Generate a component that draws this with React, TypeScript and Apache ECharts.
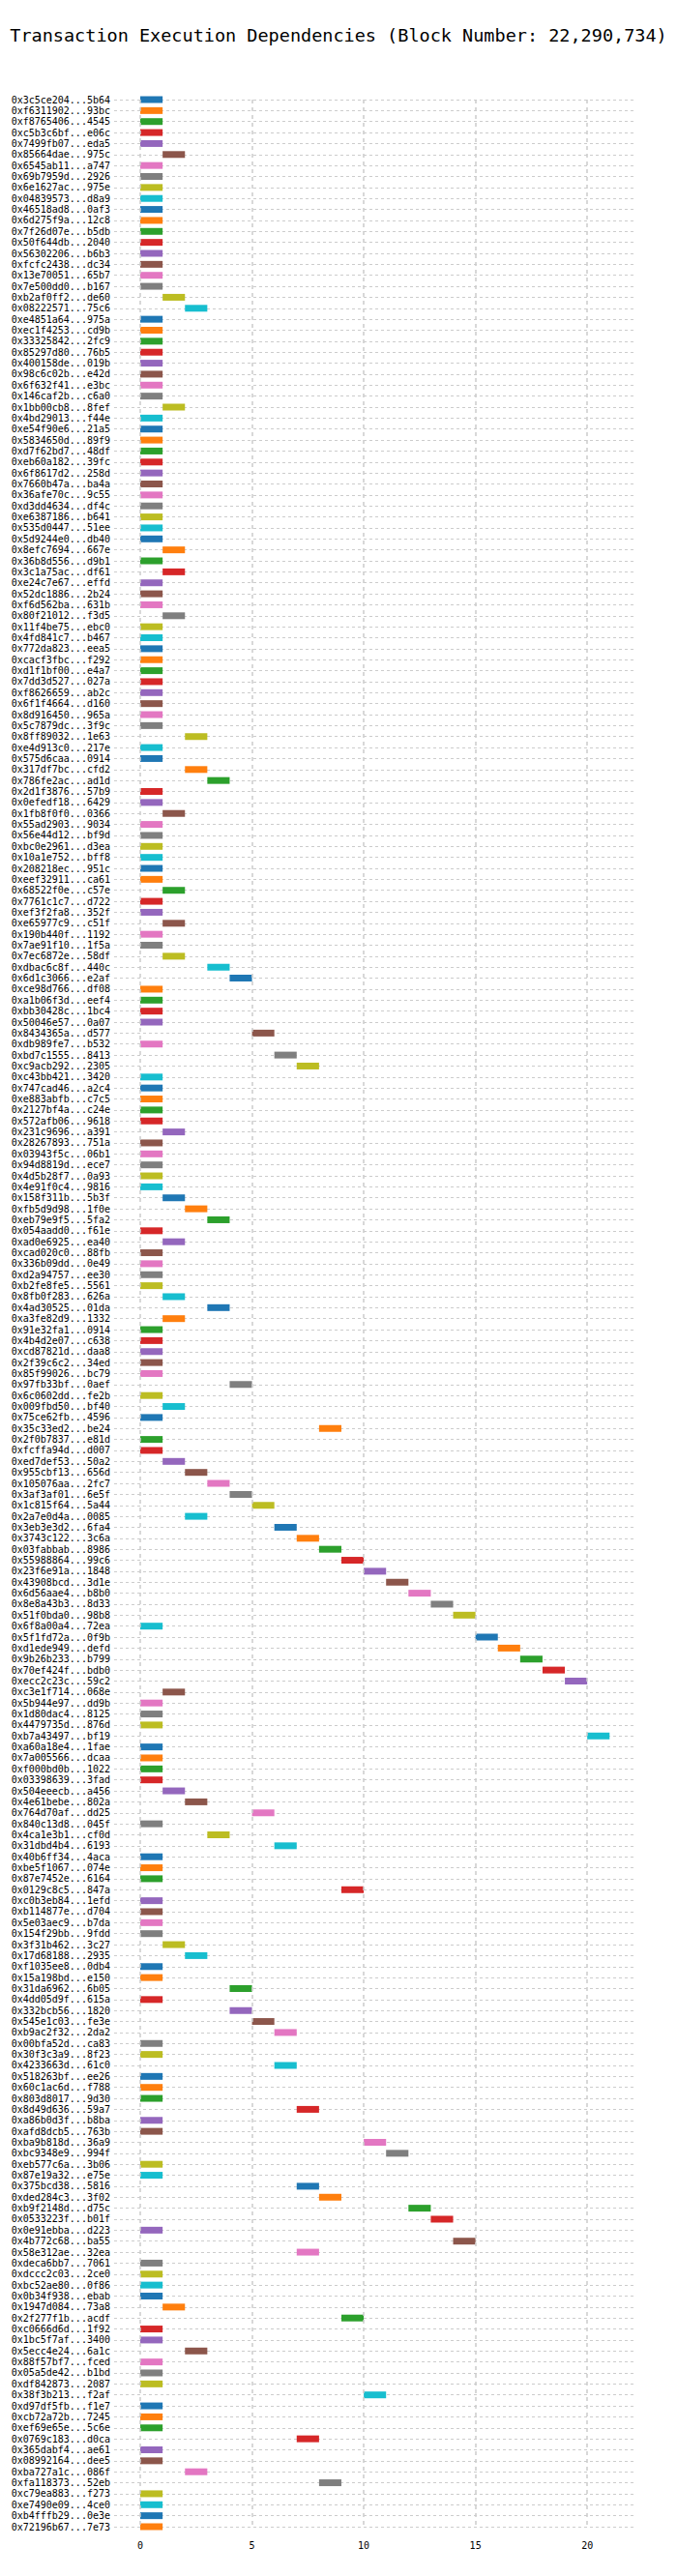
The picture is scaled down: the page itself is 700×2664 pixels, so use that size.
import React, { useEffect, useRef } from "react";
import * as echarts from "echarts";

const txHashes: string[] = [
  "0x3c5ce204...5b64", "0xf6311902...93bc", "0xf8765406...4545", "0xc5b3c6bf...e06c", "0x7499fb07...eda5",
  "0x85664dae...975c", "0x6545ab11...a747", "0x69b7959d...2926", "0x6e1627ac...975e", "0x04839573...d8a9",
  "0x46518ad8...0af3", "0x6d275f9a...12c8", "0x7f26d07e...b5db", "0x50f644db...2040", "0x56302206...b6b3",
  "0xfcfc2438...dc34", "0x13e70051...65b7", "0x7e500dd0...b167", "0xb2af0ff2...de60", "0x08222571...75c6",
  "0xe4851a64...975a", "0xec1f4253...cd9b", "0x33325842...2fc9", "0x85297d80...76b5", "0x400158de...019b",
  "0x98c6c02b...e42d", "0x6f632f41...e3bc", "0x146caf2b...c6a0", "0x1bb00cb8...8fef", "0x4bd29013...f44e",
  "0xe54f90e6...21a5", "0x5834650d...89f9", "0xd7f62bd7...48df", "0xeb60a182...39fc", "0x6f8617d2...258d",
  "0x7660b47a...ba4a", "0x36afe70c...9c55", "0xd3dd4634...df4c", "0xe6387186...b641", "0x535d0447...51ee",
  "0x5d9244e0...db40", "0x8efc7694...667e", "0x36b8d556...d9b1", "0x3c1a75ac...df61", "0xe24c7e67...effd",
  "0x52dc1886...2b24", "0xf6d562ba...631b", "0x80f21012...f3d5", "0x11f4be75...ebc0", "0x4fd841c7...b467",
  "0x772da823...eea5", "0xcacf3fbc...f292", "0xd1f1bf00...e4a7", "0x7dd3d527...027a", "0xf8626659...ab2c",
  "0x6f1f4664...d160", "0x8d916450...965a", "0x5c7879dc...3f9c", "0x8ff89032...1e63", "0xe4d913c0...217e",
  "0x575d6caa...0914", "0x317df7bc...cfd2", "0x786fe2ac...ad1d", "0x2d1f3876...57b9", "0x0efedf18...6429",
  "0x1fb8f0f0...0366", "0x55ad2903...9034", "0x56e44d12...bf9d", "0xbc0e2961...d3ea", "0x10a1e752...bff8",
  "0x208218ec...951c", "0xeef32911...ca61", "0x68522f0e...c57e", "0x7761c1c7...d722", "0xef3f2fa8...352f",
  "0xe65977c9...c51f", "0x190b440f...1192", "0x7ae91f10...1f5a", "0x7ec6872e...58df", "0xdbac6c8f...440c",
  "0x6d1c3066...e2af", "0xce98d766...df08", "0xa1b06f3d...eef4", "0xbb30428c...1bc4", "0x50046e57...0a07",
  "0x8434365a...d577", "0xdb989fe7...b532", "0xbd7c1555...8413", "0xc9acb292...2305", "0xc43bb421...3420",
  "0x747cad46...a2c4", "0xe883abfb...c7c5", "0x2127bf4a...c24e", "0x572afb06...9618", "0x231c9696...a391",
  "0x28267893...751a", "0x03943f5c...06b1", "0x94d8819d...ece7", "0x4d5b28f7...0a93", "0x4e91f0c4...9816",
  "0x158f311b...5b3f", "0xfb5d9d98...1f0e", "0xeb79e9f5...5fa2", "0x054aadd0...f61e", "0xad0e6925...ea40",
  "0xcad020c0...88fb", "0x336b09dd...0e49", "0xd2a94757...ee30", "0xb2fe8fe5...5561", "0x8fb0f283...626a",
  "0x4ad30525...01da", "0xa3fe82d9...1332", "0x91e32fa1...0914", "0x4b4d2e07...c638", "0xcd87821d...daa8",
  "0x2f39c6c2...34ed", "0x85f99026...bc79", "0x97fb33bf...0aef", "0x6c0602dd...fe2b", "0x009fbd50...bf40",
  "0x75ce62fb...4596", "0x35c33ed2...be24", "0x2f0b7837...e81d", "0xfcffa94d...d007", "0xed7def53...50a2",
  "0x955cbf13...656d", "0x105076aa...2fc7", "0x3af3af01...6e5f", "0x1c815f64...5a44", "0x2a7e0d4a...0085",
  "0x3eb3e3d2...6fa4", "0x3743c122...3c6a", "0x03fabbab...8986", "0x55988864...99c6", "0x23f6e91a...1848",
  "0x43908bcd...3d1e", "0x6d56aae4...b8b0", "0x8e8a43b3...8d33", "0x51f0bda0...98b8", "0x6f8a00a4...72ea",
  "0x5f1fd72a...0f9b", "0xd1ede949...defd", "0x9b26b233...b799", "0x70ef424f...bdb0", "0xecc2c23c...59c2",
  "0xc3e1f714...068e", "0x5b944e97...dd9b", "0x1d80dac4...8125", "0x4479735d...876d", "0xb7a43497...bf19",
  "0xa60a18e4...1fae", "0x7a005566...dcaa", "0xf000bd0b...1022", "0x03398639...3fad", "0x504eeecb...a456",
  "0x4e61bebe...802a", "0x764d70af...dd25", "0x840c13d8...045f", "0x4ca1e3b1...cf0d", "0x31dbd4b4...6193",
  "0x40b6ff34...4aca", "0xbe5f1067...074e", "0x87e7452e...6164", "0x0129c8c5...847a", "0xc0b3eb84...1efd",
  "0xb114877e...d704", "0x5e03aec9...b7da", "0x154f29bb...9fdd", "0x3f31b462...3c27", "0x17d68188...2935",
  "0xf1035ee8...0db4", "0x15a198bd...e150", "0x31da6962...6b05", "0x4dd05d9f...615a", "0x332bcb56...1820",
  "0x545e1c03...fe3e", "0xb9ac2f32...2da2", "0x00bfa52d...ca83", "0x30f3c3a9...8f23", "0x4233663d...61c0",
  "0x518263bf...ee26", "0x60c1ac6d...f788", "0x803d8017...9d30", "0x8d49d636...59a7", "0xa86b0d3f...b8ba",
  "0xafd8dcb5...763b", "0xba9b818d...36a9", "0xbc9348e9...994f", "0xeb577c6a...3b06", "0x87e19a32...e75e",
  "0x375bcd38...5816", "0xded284c3...3f02", "0xb9f2148d...d75c", "0x0533223f...b01f", "0x0e91ebba...d223",
  "0x4b772c68...ba55", "0x58e312ae...32ea", "0xdeca6bb7...7061", "0xdccc2c03...2ce0", "0xbc52ae80...0f86",
  "0x0b34f938...ebab", "0x1947d084...73a8", "0x2f277f1b...acdf", "0xc0666d6d...1f92", "0x1bc5f7af...3400",
  "0x5ecc4e24...6a1c", "0x88f57bf7...fced", "0x05a5de42...b1bd", "0xdf842873...2087", "0x38f3b213...f2af",
  "0xd97df5fb...f1e7", "0xcb72a72b...7245", "0xef69e65e...5c6e", "0x0769c183...d0ca", "0x365dabf4...ae61",
  "0x08992164...dee5", "0xba727a1c...086f", "0xfa118373...52eb", "0xc79ea883...f273", "0xe7490e09...4ce0",
  "0xb4fffb29...0e3e", "0x72196b67...7e73",
];

// execution start step of each transaction (each runs for one step)
const startSteps: number[] = [
  0, 0, 0, 0, 0, 1, 0, 0, 0, 0,
  0, 0, 0, 0, 0, 0, 0, 0, 1, 2,
  0, 0, 0, 0, 0, 0, 0, 0, 1, 0,
  0, 0, 0, 0, 0, 0, 0, 0, 0, 0,
  0, 1, 0, 1, 0, 0, 0, 1, 0, 0,
  0, 0, 0, 0, 0, 0, 0, 0, 2, 0,
  0, 2, 3, 0, 0, 1, 0, 0, 0, 0,
  0, 0, 1, 0, 0, 1, 0, 0, 1, 3,
  4, 0, 0, 0, 0, 5, 0, 6, 7, 0,
  0, 0, 0, 0, 1, 0, 0, 0, 0, 0,
  1, 2, 3, 0, 1, 0, 0, 0, 0, 1,
  3, 1, 0, 0, 0, 0, 0, 4, 0, 1,
  0, 8, 0, 0, 1, 2, 3, 4, 5, 2,
  6, 7, 8, 9, 10, 11, 12, 13, 14, 0,
  15, 16, 17, 18, 19, 1, 0, 0, 0, 20,
  0, 0, 0, 0, 1, 2, 5, 0, 3, 6,
  0, 0, 0, 9, 0, 0, 0, 0, 1, 2,
  0, 0, 4, 0, 4, 5, 6, 0, 0, 6,
  0, 0, 0, 7, 0, 0, 10, 11, 0, 0,
  7, 8, 12, 13, 0, 14, 7, 0, 0, 0,
  0, 1, 9, 0, 0, 2, 0, 0, 0, 10,
  0, 0, 0, 7, 0, 0, 2, 8, 0, 0,
  0, 0,
];

const durations: number[] = startSteps.map(() => 1);

const xTicks: number[] = [0, 5, 10, 15, 20];

const palette = [
  "#1f77b4", "#ff7f0e", "#2ca02c", "#d62728", "#9467bd",
  "#8c564b", "#e377c2", "#7f7f7f", "#bcbd22", "#17becf",
];

const mono = "'DejaVu Sans Mono', monospace";

const App: React.FC = () => {
  const chartRef = useRef<HTMLDivElement>(null);

  useEffect(() => {
    document.body.style.margin = "0";
    if (!chartRef.current) return;
    const chart = echarts.init(chartRef.current, undefined, { renderer: "svg" });

    const option: echarts.EChartsOption = {
      animation: false,
      backgroundColor: "#ffffff",
      title: {
        text: "Transaction Execution Dependencies (Block Number: 22,290,734)",
        left: "center",
        top: 22,
        textStyle: { fontFamily: mono, fontSize: 18.5, fontWeight: "normal", color: "#000" },
      },
      grid: { left: 118, right: 42, top: 103, bottom: 51 },
      xAxis: {
        type: "value",
        min: -1.17,
        max: 22.2,
        axisLine: { show: false },
        axisTick: { show: false },
        splitLine: { show: false },
        axisLabel: {
          customValues: xTicks,
          margin: 14,
          fontFamily: mono,
          fontSize: 10,
          color: "#000",
        },
      },
      yAxis: {
        type: "category",
        inverse: true,
        boundaryGap: false,
        data: txHashes,
        axisLine: { show: false },
        axisTick: { show: false },
        axisLabel: { interval: 0, margin: 4, fontFamily: mono, fontSize: 10, color: "#000" },
        splitLine: {
          show: true,
          interval: 0,
          lineStyle: { type: [3, 3], color: "#cccccc", width: 1.2 },
        },
      },
      series: [
        {
          type: "bar",
          stack: "exec",
          data: startSteps,
          barWidth: 7,
          clip: false,
          itemStyle: { color: "transparent" },
          silent: true,
          markLine: {
            silent: true,
            symbol: "none",
            label: { show: false },
            lineStyle: { type: [4, 4], color: "#cccccc", width: 1.5 },
            data: xTicks.map((v) => ({ xAxis: v })),
          },
        },
        {
          type: "bar",
          stack: "exec",
          data: durations,
          barWidth: 7,
          clip: false,
          itemStyle: {
            color: (p: any) => palette[p.dataIndex % palette.length],
          },
        },
      ],
    };

    chart.setOption(option);
    return () => {
      chart.dispose();
    };
  }, []);

  return <div ref={chartRef} style={{ width: "700px", height: "2664px" }} />;
};

export default App;
